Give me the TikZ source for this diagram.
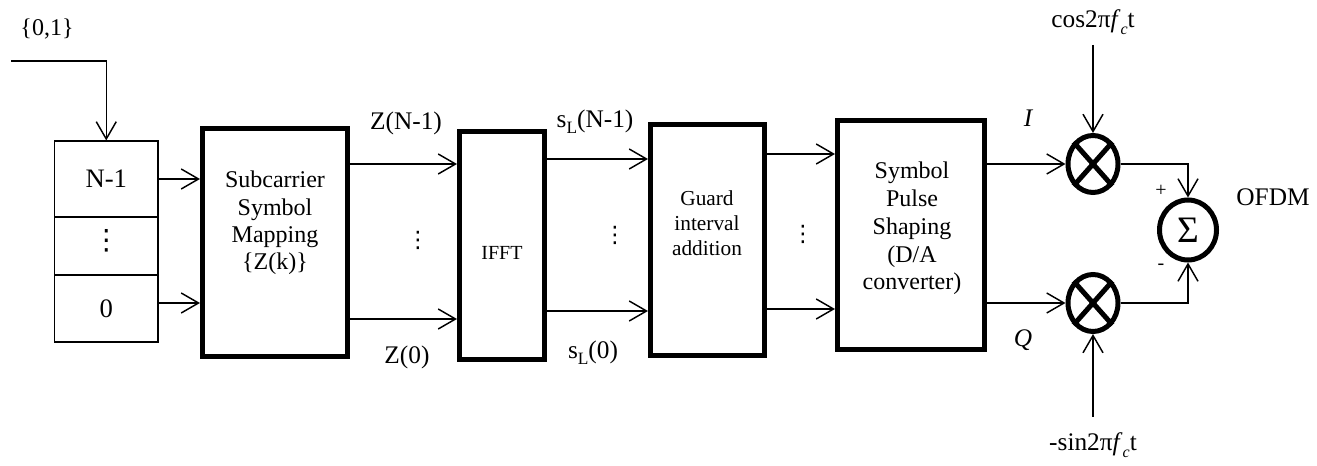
\documentclass[tikz,border=0pt]{standalone}
\usepackage{fontspec}
\setmainfont{Liberation Serif}
\newfontfamily\dvfont{DejaVu Sans}
\usetikzlibrary{arrows.meta,shapes.geometric,calc}
\begin{document}
\begin{tikzpicture}[x=0.75pt,y=-0.75pt,
  arr/.style={-{Straight Barb[length=13pt,width=15pt,line width=1.1pt]}, line width=1.1pt},
  blk/.style={draw,line width=3.75pt,rectangle,inner sep=0pt},
  cell/.style={draw,line width=0.8pt,rectangle,inner sep=0pt,minimum width=77.6pt,font=\fontsize{20}{22}\selectfont},
  mult/.style={draw,line width=3.75pt,ellipse,inner sep=0pt,minimum width=37.5pt,minimum height=42.75pt},
  lbl/.style={inner sep=0pt,font=\fontsize{19}{21}\selectfont},
  btxt/.style={inner sep=0pt,align=center,font=\fontsize{18}{20.5}\selectfont},
  dots/.style={inner sep=0pt,font=\dvfont\fontsize{17}{19}\selectfont}
]
\useasboundingbox (0,0) rectangle (1317,466);

% register
\node[cell,minimum height=57pt] (reg1) at (106.25,179) {N-1};
\node[cell,minimum height=43.5pt] (reg2) at (106.25,246) {};
\node[dots,font=\dvfont\fontsize{21}{23}\selectfont] (reg2T) at (106.25,241) {⋮};
\node[cell,minimum height=50.25pt] (reg3) at (106.25,308.5) {0};
\coordinate (in0) at (11,61);
\node[lbl,font=\fontsize{18}{20}\selectfont] (bits) at (47,29) {\{0,1\}};
\draw[arr] (in0) -| (reg1.north);

% blocks
\node[blk,minimum width=108.75pt,minimum height=171pt] (sub) at (275,242.5) {};
\node[btxt] (subT) at (275,223) {Subcarrier\\Symbol\\Mapping\\\{Z(k)\}};
\node[blk,minimum width=63.75pt,minimum height=171pt] (ifft) at (502,245.5) {};
\node[btxt,font=\fontsize{15}{17}\selectfont] (ifftT) at (502,253) {IFFT};
\node[blk,minimum width=85.5pt,minimum height=173.25pt] (gi) at (707.5,240) {};
\node[btxt,font=\fontsize{16}{18.75}\selectfont] (giT) at (707,223) {Guard\\interval\\addition};
\node[blk,minimum width=110.25pt,minimum height=171.75pt] (sym) at (911,235) {};
\node[btxt,font=\fontsize{18}{20.8}\selectfont] (symT) at (912,228.5) {Symbol\\Pulse\\Shaping\\(D/A\\converter)};

% register -> mapping
\draw[arr] (reg1.east) -- (reg1.east -| sub.west);
\draw[arr] (reg3.east |- 0,303) -- (sub.west |- 0,303);

% mapping -> IFFT
\draw[arr] (sub.east |- 0,164) -- (ifft.west |- 0,164);
\draw[arr] (sub.east |- 0,319) -- (ifft.west |- 0,319);
\node[lbl] (zn) at (406,123) {Z(N-1)};
\node[lbl] (z0) at (407,357) {Z(0)};
\node[dots] (d1) at (418,240) {⋮};

% IFFT -> guard
\draw[arr] (ifft.east |- 0,159) -- (gi.west |- 0,159);
\draw[arr] (ifft.east |- 0,311) -- (gi.west |- 0,311);
\node[lbl] (sn) at (595,122) {s\raisebox{-0.5ex}{\fontsize{13}{14}\selectfont L}(N-1)};
\node[lbl] (s0) at (593,353) {s\raisebox{-0.5ex}{\fontsize{13}{14}\selectfont L}(0)};
\node[dots] (d2) at (615,235) {⋮};

% guard -> symbol
\draw[arr] (gi.east |- 0,154) -- (sym.west |- 0,154);
\draw[arr] (gi.east |- 0,309) -- (sym.west |- 0,309);
\node[dots] (d3) at (803,234) {⋮};

% mixers
\node[mult] (m1) at (1093,164) {};
\node[mult] (m2) at (1093,303) {};
\foreach \m in {m1,m2}{
  \draw[line width=3.75pt] (\m.north east) -- (\m.south west);
  \draw[line width=3.75pt] (\m.north west) -- (\m.south east);
}
\draw[arr] (sym.east |- m1.west) -- (m1.west);
\draw[arr] (sym.east |- m2.west) -- (m2.west);
\node[lbl,font=\fontsize{19}{21}\selectfont\itshape] (il) at (1028,118) {I};
\node[lbl,font=\fontsize{19}{21}\selectfont\itshape] (ql) at (1023,340) {Q};

\coordinate (cosin) at (1093,45);
\coordinate (sinin) at (1093,417);
\draw[arr] (cosin) -- (m1.north);
\draw[arr] (sinin) -- (m2.south);
\node[lbl] (cosl) at (1093,22) {cos2π\textit{f}\raisebox{-0.6ex}{\fontsize{12}{13}\selectfont\itshape c}t};
\node[lbl] (sinl) at (1093,445) {-sin2π\textit{f}\raisebox{-0.6ex}{\fontsize{12}{13}\selectfont\itshape c}t};

% sum
\node[draw,line width=3.75pt,ellipse,inner sep=0pt,minimum width=42.75pt,minimum height=45pt] (sum) at (1188,230) {};
\node[inner sep=0pt,font=\fontsize{28}{30}\selectfont] (sumT) at (1188,230) {Σ};
\draw[arr] (m1.east) -| (sum.north);
\draw[arr] (m2.east) -| (sum.south);
\node[lbl,font=\fontsize{15}{17}\selectfont] (plus) at (1161,191) {+};
\node[lbl,font=\fontsize{15}{17}\selectfont] (minus) at (1161,267) {-};
\node[lbl] (ofdm) at (1273,197) {OFDM};
\end{tikzpicture}
\end{document}
